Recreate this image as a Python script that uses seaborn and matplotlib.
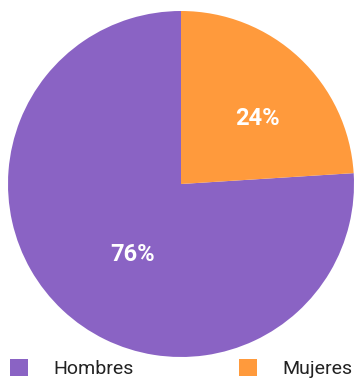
import matplotlib
matplotlib.use("Agg")
import matplotlib.pyplot as plt
from matplotlib.patches import Patch
import seaborn as sns

categories = ["Hombres", "Mujeres"]
shares = [76, 24]
colors = ["#8a63c4", "#ff9a3c"]
label_xy = [(-0.28, -0.41), (0.44, 0.38)]

sns.set_theme(style="white")
plt.rcParams["font.family"] = ["Roboto", "DejaVu Sans"]

fig = plt.figure(figsize=(3.57, 3.82), dpi=100)
ax = fig.add_axes([8 / 357, 1 - 357 / 382, 346 / 357, 346 / 382])

wedges, texts, autotexts = ax.pie(
    shares,
    colors=colors,
    startangle=90,
    counterclock=True,
    autopct="%d%%",
    pctdistance=0.55,
    radius=1.0,
    wedgeprops=dict(linewidth=0),
    textprops=dict(color="white", fontsize=17, fontweight="bold"),
)
for t, xy in zip(autotexts, label_xy):
    t.set_position(xy)
ax.set_aspect("equal")
ax.set_xlim(-1.0, 1.0)
ax.set_ylim(-1.0, 1.0)
ax.axis("off")

handles = [Patch(facecolor=c, edgecolor="none") for c in colors]
leg = fig.legend(
    handles,
    categories,
    loc="lower left",
    bbox_to_anchor=(6 / 357, 0.0),
    ncol=2,
    frameon=False,
    handlelength=0.95,
    handleheight=0.95,
    handletextpad=1.3,
    columnspacing=5.4,
    fontsize=14,
    borderpad=0.2,
    borderaxespad=0.0,
)
for t in leg.get_texts():
    t.set_color("#222222")

fig.savefig("out.png", dpi=100)
